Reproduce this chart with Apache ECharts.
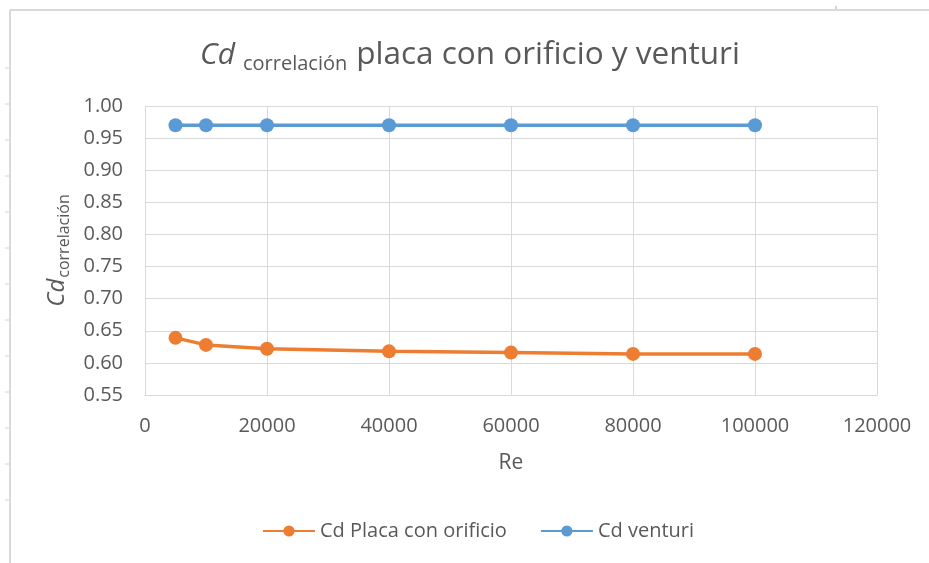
<!DOCTYPE html>
<html>
<head>
<meta charset="utf-8">
<script src="https://cdn.jsdelivr.net/npm/echarts@6/dist/echarts.min.js"></script>
<style>
  html, body { margin: 0; padding: 0; background: #fff; }
  #chart { width: 929px; height: 563px; }
</style>
</head>
<body>
<div id="chart"></div>
<script>
// Reynolds numbers and discharge coefficients
const reynolds = [5000, 10000, 20000, 40000, 60000, 80000, 100000];
const cdPlaca = [0.639, 0.628, 0.622, 0.618, 0.616, 0.614, 0.614];
const cdVenturi = [0.970, 0.970, 0.970, 0.970, 0.970, 0.970, 0.970];
const seriesNames = ['Cd Placa con orificio', 'Cd venturi'];

const FONT = '"Open Sans", "Liberation Sans", sans-serif';
const TEXT = '#595959';
const GRID = '#d9d9d9';

const pairs = (xs, ys) => xs.map((x, i) => [x, ys[i]]);

// Light frame and tick marks along the left and top edges
const frameTicks = [];
for (let y = 68; y <= 500; y += 36) {
  frameTicks.push({ type: 'line', shape: { x1: 5, y1: y, x2: 9, y2: y },
    style: { stroke: '#d0d4dc', lineWidth: 1 } });
}

const chart = echarts.init(document.getElementById('chart'), null, { renderer: 'canvas' });
chart.setOption({
  backgroundColor: '#ffffff',
  animation: false,
  textStyle: { fontFamily: FONT, color: TEXT },
  graphic: [
    { type: 'line', shape: { x1: 10, y1: 10, x2: 929, y2: 10 }, style: { stroke: '#d9d9d9', lineWidth: 2 } },
    { type: 'line', shape: { x1: 10, y1: 10, x2: 10, y2: 563 }, style: { stroke: '#d9d9d9', lineWidth: 2 } },
    { type: 'line', shape: { x1: 836, y1: 6, x2: 836, y2: 9 }, style: { stroke: '#d0d4dc', lineWidth: 2 } }
  ].concat(frameTicks),
  title: {
    left: 195,
    top: 32,
    text: '{cd|Cd}{sub|correlación}{main|placa con orificio y venturi}',
    textStyle: {
      fontWeight: 'normal',
      rich: {
        cd: { fontFamily: FONT, fontSize: 30, fontStyle: 'italic', fontWeight: 'normal', color: TEXT },
        sub: { fontFamily: FONT, fontSize: 20, fontWeight: 'normal', color: TEXT,
               padding: [17, 9, 0, 8] },
        main: { fontFamily: FONT, fontSize: 31.5, fontWeight: 'normal', color: TEXT }
      }
    }
  },
  legend: {
    top: 521,
    left: 262,
    padding: 0,
    itemWidth: 52,
    itemHeight: 14,
    itemGap: 33,
    textStyle: { fontFamily: FONT, fontSize: 20, color: TEXT },
    data: seriesNames
  },
  grid: { left: 145, top: 106, right: 52, bottom: 168, containLabel: false },
  xAxis: {
    type: 'value',
    min: 0, max: 120000, interval: 20000,
    name: 'Re',
    nameLocation: 'middle',
    nameGap: 58,
    nameTextStyle: { fontFamily: FONT, fontSize: 21, color: TEXT },
    axisLine: { show: true, lineStyle: { color: GRID, width: 1 } },
    axisTick: { show: false },
    axisLabel: { fontFamily: FONT, fontSize: 20, color: TEXT, margin: 21,
      formatter: v => String(v) },
    splitLine: { show: true, lineStyle: { color: GRID, width: 1 } }
  },
  yAxis: {
    type: 'value',
    min: 0.55, max: 1.00, interval: 0.05,
    name: '{cd|Cd}{sub|correlación}',
    nameLocation: 'middle',
    nameRotate: 90,
    nameGap: 72,
    nameTextStyle: {
      rich: {
        cd: { fontFamily: FONT, fontSize: 24, fontStyle: 'italic', color: TEXT },
        sub: { fontFamily: FONT, fontSize: 16, color: TEXT, padding: [15, 0, 0, 1] }
      }
    },
    axisLine: { show: true, lineStyle: { color: GRID, width: 1 } },
    axisTick: { show: false },
    axisLabel: { fontFamily: FONT, fontSize: 20, color: TEXT, margin: 22,
      formatter: v => v.toFixed(2) },
    splitLine: { show: true, lineStyle: { color: GRID, width: 1 } }
  },
  series: [
    {
      name: seriesNames[0], type: 'line',
      data: pairs(reynolds, cdPlaca),
      symbol: 'circle', symbolSize: 14,
      lineStyle: { color: '#ED7D31', width: 3.5 },
      itemStyle: { color: '#ED7D31' }
    },
    {
      name: seriesNames[1], type: 'line',
      data: pairs(reynolds, cdVenturi),
      symbol: 'circle', symbolSize: 14,
      lineStyle: { color: '#5B9BD5', width: 3.5 },
      itemStyle: { color: '#5B9BD5' }
    }
  ]
});
</script>
</body>
</html>
